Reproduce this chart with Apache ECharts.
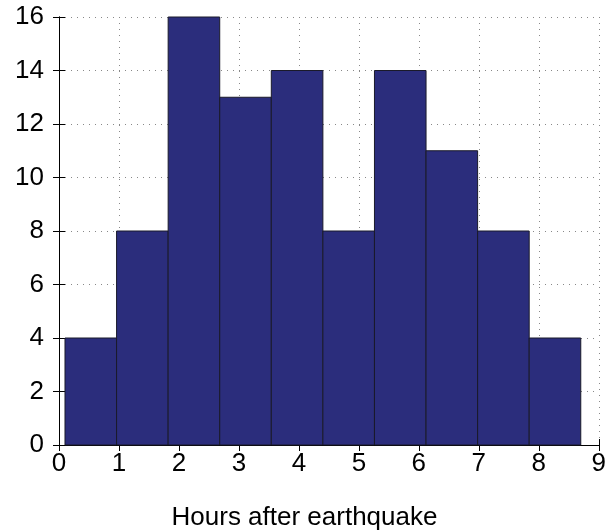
<!DOCTYPE html>
<html><head><meta charset="utf-8">
<script src="https://cdn.jsdelivr.net/npm/echarts@6/dist/echarts.min.js"></script>
<style>html,body{margin:0;padding:0;background:#fff}#c{width:609px;height:531px}</style>
</head><body><div id="c"></div>
<script>
const binEdges = [0.1, 0.96, 1.82, 2.68, 3.54, 4.40, 5.26, 6.12, 6.98, 7.84, 8.70];
const counts = [4, 8, 16, 13, 14, 8, 14, 11, 8, 4];
const xTicks = [0,1,2,3,4,5,6,7,8,9];
const yTicks = [0,2,4,6,8,10,12,14,16];
const xLabel = 'Hours after earthquake';

const data = counts.map((v,i)=>[binEdges[i], binEdges[i+1], v]);
const font = 'Liberation Sans, Arial, Helvetica, sans-serif';
const axisCommon = {
  axisLine:{show:true, lineStyle:{color:'#000', width:1}},
  axisTick:{show:true, inside:true, length:6, lineStyle:{color:'#000'}},
};
const chart = echarts.init(document.getElementById('c'));
chart.setOption({
  animation:false,
  title:{text:xLabel, left:'center', top:505, padding:0,
    textStyle:{fontSize:26, fontWeight:'normal', color:'#000', fontFamily:font}},
  grid:{left:59, right:9, top:17, bottom:86, show:false},
  xAxis:[
    Object.assign({type:'value', min:0, max:9, interval:1, position:'bottom',
      axisLabel:{fontSize:26, color:'#000', fontFamily:font, margin:6, formatter:v=>xTicks.includes(v)?String(v):''},
      splitLine:{show:true, lineStyle:{color:'#888', type:[1,5], width:1}}}, axisCommon),
    Object.assign({type:'value', min:0, max:9, interval:1, position:'top',
      axisLabel:{show:false}, splitLine:{show:false}}, axisCommon)
  ],
  yAxis:[
    Object.assign({type:'value', min:0, max:16, interval:2, position:'left',
      axisLabel:{fontSize:26, color:'#000', fontFamily:font, margin:15, formatter:v=>yTicks.includes(v)?String(v):''},
      splitLine:{show:true, lineStyle:{color:'#888', type:[1,5], width:1}}}, axisCommon),
    Object.assign({type:'value', min:0, max:16, interval:2, position:'right',
      axisLabel:{show:false}, splitLine:{show:false}}, axisCommon)
  ],
  series:[{
    type:'custom',
    xAxisIndex:0, yAxisIndex:0,
    data:data,
    encode:{x:[0,1], y:2},
    renderItem:function(params, api){
      const p0 = api.coord([api.value(0), 0]);
      const p1 = api.coord([api.value(1), api.value(2)]);
      return {type:'rect', shape:{x:p0[0], y:p1[1], width:p1[0]-p0[0], height:p0[1]-p1[1]},
        style:{fill:'#2b2d7c', stroke:'#1a1a2a', lineWidth:1}};
    }
  }]
});
</script></body></html>
